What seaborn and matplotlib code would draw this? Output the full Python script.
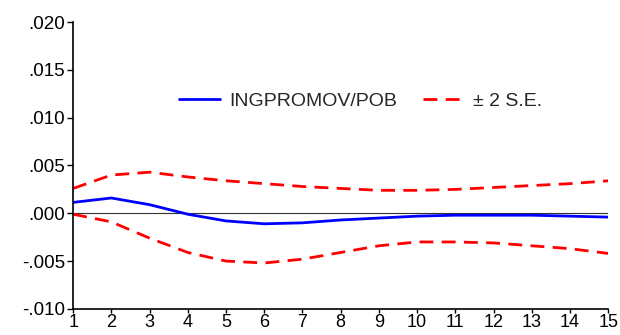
import numpy as np
import pandas as pd
import matplotlib
matplotlib.use("Agg")
import matplotlib.pyplot as plt
import seaborn as sns

periods = list(range(1, 16))
response = [0.00114, 0.0016, 0.0009, -0.0001, -0.0008, -0.0011, -0.001, -0.0007,
            -0.0005, -0.0003, -0.0002, -0.0002, -0.0002, -0.0003, -0.0004]
upper = [0.0026, 0.004, 0.0043, 0.0038, 0.0034, 0.0031, 0.0028, 0.0026,
         0.0024, 0.0024, 0.0025, 0.0027, 0.0029, 0.0031, 0.0034]
lower = [-0.0001, -0.0009, -0.0026, -0.0041, -0.005, -0.0052, -0.0048, -0.0041,
         -0.0034, -0.003, -0.003, -0.0031, -0.0034, -0.0037, -0.0042]
yticks = [-0.010, -0.005, 0.000, 0.005, 0.010, 0.015, 0.020]

df = pd.DataFrame({"period": periods, "response": response,
                   "upper": upper, "lower": lower})

sns.set_style("ticks")
plt.rcParams["font.family"] = ["Liberation Sans", "DejaVu Sans"]

fig = plt.figure(figsize=(6.2, 3.35), dpi=100)
ax = fig.add_axes([0.118, 0.078, 0.863, 0.856])

ax.axhline(0, color="#333333", lw=0.8, zorder=1)
sns.lineplot(data=df, x="period", y="response", ax=ax, color="#0000ff", lw=2,
             label="INGPROMOV/POB")
sns.lineplot(data=df, x="period", y="upper", ax=ax, color="#ff0000", lw=2,
             dashes=False, label="\u00b1 2 S.E.")
sns.lineplot(data=df, x="period", y="lower", ax=ax, color="#ff0000", lw=2)
for l in ax.lines[-2:]:
    l.set_dashes([5, 3])

ax.set_xlim(1, 15)
ax.set_ylim(-0.010, 0.020)
ax.set_xticks(periods)
ax.set_yticks(yticks)
ax.set_yticklabels([("-" if v < 0 else "") + ("%.3f" % abs(v))[1:] for v in yticks])
ax.set_xlabel("")
ax.set_ylabel("")
ax.tick_params(labelsize=13.5, length=4, width=1, colors="black", pad=2)
ax.tick_params(axis="x", length=3, pad=0.5, labelsize=13)
for s in ["top", "right"]:
    ax.spines[s].set_visible(False)
for s in ["left", "bottom"]:
    ax.spines[s].set_color("black")
    ax.spines[s].set_linewidth(1.2)

h, lab = ax.get_legend_handles_labels()
ax.legend(h[:2], lab[:2], loc="center", bbox_to_anchor=(0.537, 0.725),
          ncol=2, frameon=False, fontsize=14, handlelength=2.1,
          handletextpad=0.5, columnspacing=1.3)

fig.savefig("out.png", dpi=100)
